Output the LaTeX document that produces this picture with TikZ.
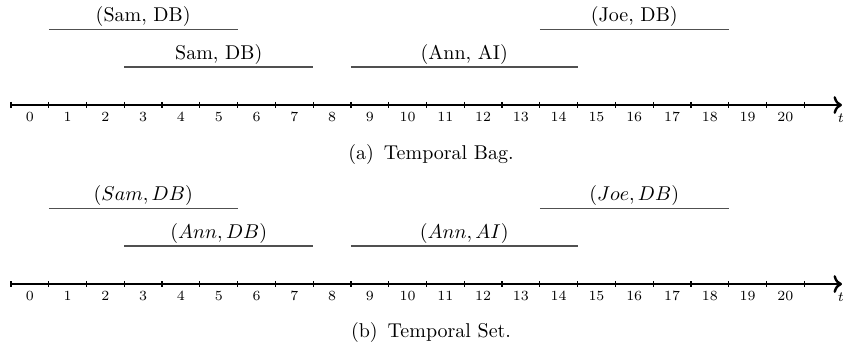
\documentclass[tikz,border=0pt]{standalone}
\usepackage{amsmath,amssymb}
\usepackage{tikz}
\usetikzlibrary{arrows.meta,positioning,calc}
\definecolor{ivGray}{RGB}{80,80,80}
\tikzset{
  interval/.style={draw=ivGray, thick},
  ivlabel/.style={above, inner sep=1.2pt, font=\normalsize},
  timeaxis/.style={->, very thick, draw=black},
  tickmark/.style={semithick, draw=black},
  ticklabel/.style={font=\scriptsize, inner sep=1pt},
  caption/.style={font=\normalsize, inner sep=1pt}
}

\begin{document}
\begin{tikzpicture}[x=18.9pt, y=18.9pt]
\useasboundingbox (-0.291,2.78) rectangle (22.08,-6.354);
% (a) temporal bag
\foreach \s/\e/\yy/\lab/\n in {1/6/2/{(Sam, DB)}/bA, 3/8/1/{Sam, DB)}/bB,
                               9/15/1/{(Ann, AI)}/bC, 14/19/2/{(Joe, DB)}/bD} {
  \coordinate (\n s) at (\s,\yy);
  \coordinate (\n e) at (\e,\yy);
  \draw[interval] (\n s) -- node[ivlabel] {\lab} (\n e);
}
\coordinate (axA0) at (0,0);
\coordinate (axA1) at (22,0);
\draw[timeaxis] (axA0) -- (axA1);
\foreach \i in {0,...,21} \draw[tickmark] (\i,0.08) -- (\i,-0.08);
\foreach \i in {0,...,20} \node[ticklabel] (tA\i) at (\i+0.5,-0.32) {\i};
\node[ticklabel] (tA) at (21.97,-0.34) {$t$};
\node[caption] (capA) at (11.12,-1.32) {(a)\enspace Temporal Bag.};
% (b) temporal set
\begin{scope}[yshift=-4.74*18.9pt]
\foreach \s/\e/\yy/\lab/\n in {1/6/2/{$(Sam, DB)$}/sA, 3/8/1/{$(Ann, DB)$}/sB,
                               9/15/1/{$(Ann, AI)$}/sC, 14/19/2/{$(Joe, DB)$}/sD} {
  \coordinate (\n s) at (\s,\yy);
  \coordinate (\n e) at (\e,\yy);
  \draw[interval] (\n s) -- node[ivlabel] {\lab} (\n e);
}
\coordinate (axB0) at (0,0);
\coordinate (axB1) at (22,0);
\draw[timeaxis] (axB0) -- (axB1);
\foreach \i in {0,...,21} \draw[tickmark] (\i,0.08) -- (\i,-0.08);
\foreach \i in {0,...,20} \node[ticklabel] (tB\i) at (\i+0.5,-0.32) {\i};
\node[ticklabel] (tB) at (21.97,-0.34) {$t$};
\node[caption] (capB) at (11.12,-1.27) {(b)\enspace Temporal Set.};
\end{scope}
\end{tikzpicture}
\end{document}
